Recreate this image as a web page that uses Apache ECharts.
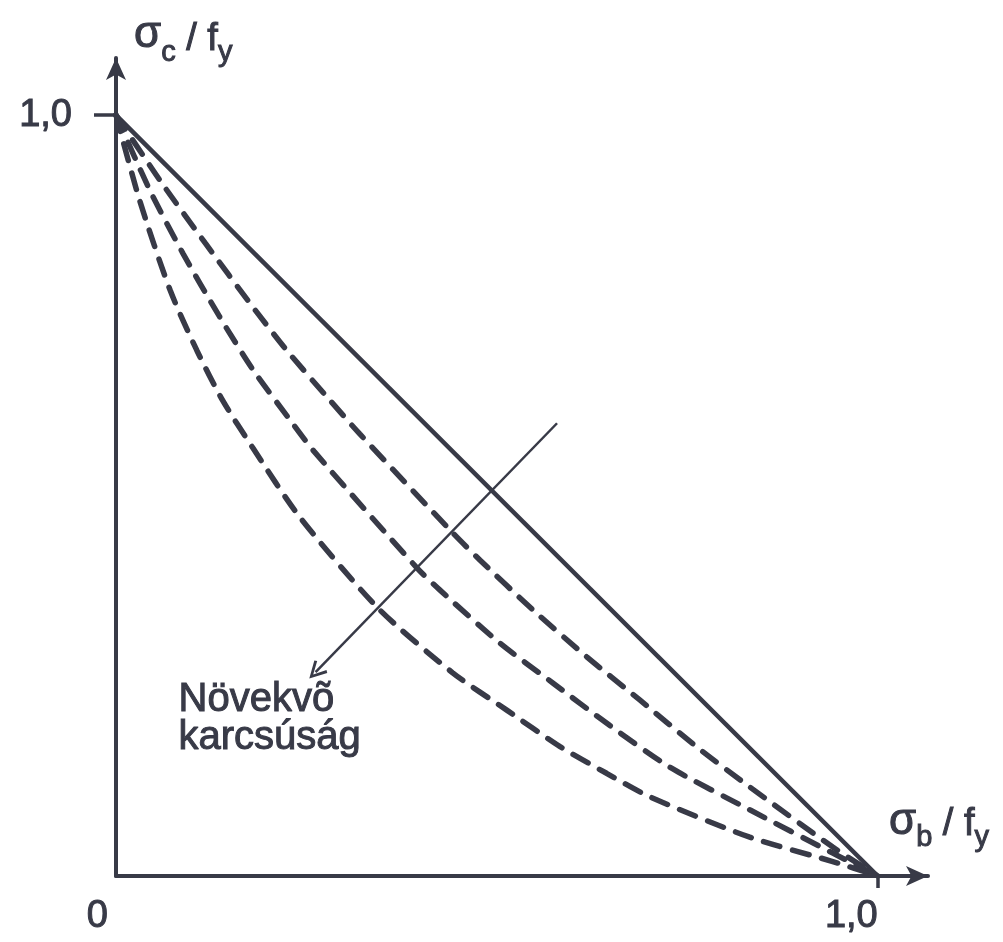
<!DOCTYPE html>
<html>
<head>
<meta charset="utf-8">
<script src="https://cdn.jsdelivr.net/npm/echarts@6/dist/echarts.min.js"></script>
<style>
  html, body { margin: 0; padding: 0; background: #ffffff; }
  #chart { width: 1003px; height: 942px; }
</style>
</head>
<body>
<div id="chart"></div>
<script>
// Interaction curves: sigma_b/f_y (x) against sigma_c/f_y (y)
const linearBound = [[0, 1], [1, 0]];

// Dashed curves, from the least to the most slender member
const curveLow = [
  [0, 1], [0.062, 0.908], [0.117, 0.832], [0.178, 0.750], [0.224, 0.691],
  [0.281, 0.625], [0.320, 0.581], [0.442, 0.451], [0.478, 0.415],
  [0.547, 0.350], [0.618, 0.288], [0.688, 0.231], [0.762, 0.170],
  [0.832, 0.117], [0.941, 0.038], [1, 0]
];
const curveMid = [
  [0, 1], [0.045, 0.900], [0.088, 0.818], [0.136, 0.735], [0.180, 0.665],
  [0.228, 0.600], [0.260, 0.558], [0.395, 0.405], [0.425, 0.376],
  [0.504, 0.306], [0.573, 0.254], [0.648, 0.198], [0.727, 0.143],
  [0.832, 0.087], [0.941, 0.030], [1, 0]
];
const curveHigh = [
  [0, 1], [0.031, 0.888], [0.071, 0.770], [0.106, 0.691], [0.140, 0.625],
  [0.180, 0.562], [0.241, 0.472], [0.344, 0.352], [0.442, 0.267],
  [0.513, 0.218], [0.583, 0.170], [0.644, 0.135], [0.701, 0.104],
  [0.832, 0.051], [0.941, 0.019], [1, 0]
];

// Direction arrow for increasing slenderness
const arrowFrom = [0.579, 0.595];
const arrowTo = [0.262, 0.268];

const tickValues = [0, 1];
const tickLabels = { 0: '0', 1: '1,0' };
const noteLines = ['Növekvõ', 'karcsúság'];

const INK = '#383a47';
const FONT = '"Liberation Sans", Arial, Helvetica, sans-serif';

// slight outline so the lettering reads as heavy as the lines
const heavy = { textBorderColor: INK, textBorderWidth: 1 };

const dashedStyle = {
  color: INK, width: 5.5, type: [17, 13], cap: 'round'
};

// open chevron used as the arrow head of the annotation line
const chevron = 'path://M50,0 L100,88 L86,96 L50,30 L14,96 L0,88 Z';

function nameRich(sigmaPad, mainPad, subPad) {
  return {
    s: Object.assign({ fontSize: 44, fontFamily: FONT, color: INK, verticalAlign: 'bottom', padding: [0, 0, sigmaPad, 0] }, heavy),
    m: Object.assign({ fontSize: 38, fontFamily: FONT, color: INK, verticalAlign: 'bottom', padding: [0, 0, mainPad, 0] }, heavy),
    sub: Object.assign({ fontSize: 29, fontFamily: FONT, color: INK, verticalAlign: 'bottom', padding: [0, 0, subPad, 0] }, heavy)
  };
}

const chart = echarts.init(document.getElementById('chart'), null, { renderer: 'canvas' });

chart.setOption({
  backgroundColor: '#ffffff',
  animation: false,
  grid: { left: 116, right: 75, top: 58, bottom: 66 },
  xAxis: {
    type: 'value', min: 0, max: 1.066,
    splitLine: { show: false },
    axisLine: {
      show: true, onZero: false,
      symbol: ['none', 'arrow'], symbolSize: [15, 22],
      lineStyle: { color: INK, width: 4 }
    },
    axisTick: { show: true, customValues: [1], length: 12, inside: false,
      lineStyle: { color: INK, width: 3.5 } },
    axisLabel: {
      show: true, customValues: tickValues, margin: 22, align: 'right',
      formatter: v => v === 0 ? '{z|' + tickLabels[0] + '}' : '{o|' + tickLabels[1] + '}',
      rich: {
        z: Object.assign({ fontSize: 38, fontFamily: FONT, color: INK, padding: [0, 8, 0, 0] }, heavy),
        o: Object.assign({ fontSize: 38, fontFamily: FONT, color: INK }, heavy)
      }
    },
    name: '{s|σ}{sub|b}{m| / f}{sub|y}',
    nameLocation: 'end',
    nameGap: -39,
    nameTextStyle: {
      align: 'left', verticalAlign: 'bottom', padding: [0, 0, 24, 0],
      rich: nameRich(8, 8, 0)
    }
  },
  yAxis: {
    type: 'value', min: 0, max: 1.075,
    splitLine: { show: false },
    axisLine: {
      show: true, onZero: false,
      symbol: ['none', 'arrow'], symbolSize: [15, 22],
      lineStyle: { color: INK, width: 4 }
    },
    axisTick: { show: true, customValues: [1], length: 22, inside: false,
      lineStyle: { color: INK, width: 3.5 } },
    axisLabel: Object.assign({
      show: true, customValues: [1], margin: 44,
      formatter: v => tickLabels[v],
      fontSize: 38, fontFamily: FONT, color: INK
    }, heavy),
    name: '{s|σ}{sub|c}{m| / f}{sub|y}',
    nameLocation: 'end',
    nameGap: -9,
    nameTextStyle: {
      align: 'left', verticalAlign: 'bottom', padding: [0, 0, 0, 18],
      rich: nameRich(10, 8, 0)
    }
  },
  series: [
    {
      type: 'line', data: linearBound, showSymbol: false, silent: true,
      lineStyle: { color: INK, width: 4.5 },
      markLine: {
        silent: true, symbol: ['none', chevron], symbolSize: [18, 18],
        label: { show: false },
        lineStyle: { color: INK, width: 2.5, type: 'solid' },
        data: [[{ coord: arrowFrom }, { coord: arrowTo }]]
      }
    },
    { type: 'line', data: curveLow, smooth: 0.25, showSymbol: false, silent: true, lineStyle: dashedStyle },
    { type: 'line', data: curveMid, smooth: 0.25, showSymbol: false, silent: true, lineStyle: dashedStyle },
    { type: 'line', data: curveHigh, smooth: 0.25, showSymbol: false, silent: true, lineStyle: dashedStyle }
  ],
  graphic: [{
    type: 'text', left: 178, top: 679, silent: true,
    style: {
      text: noteLines.join('\n'), fontSize: 40, lineHeight: 38,
      fontFamily: FONT, fill: INK, stroke: INK, lineWidth: 1
    }
  }]
});
</script>
</body>
</html>
